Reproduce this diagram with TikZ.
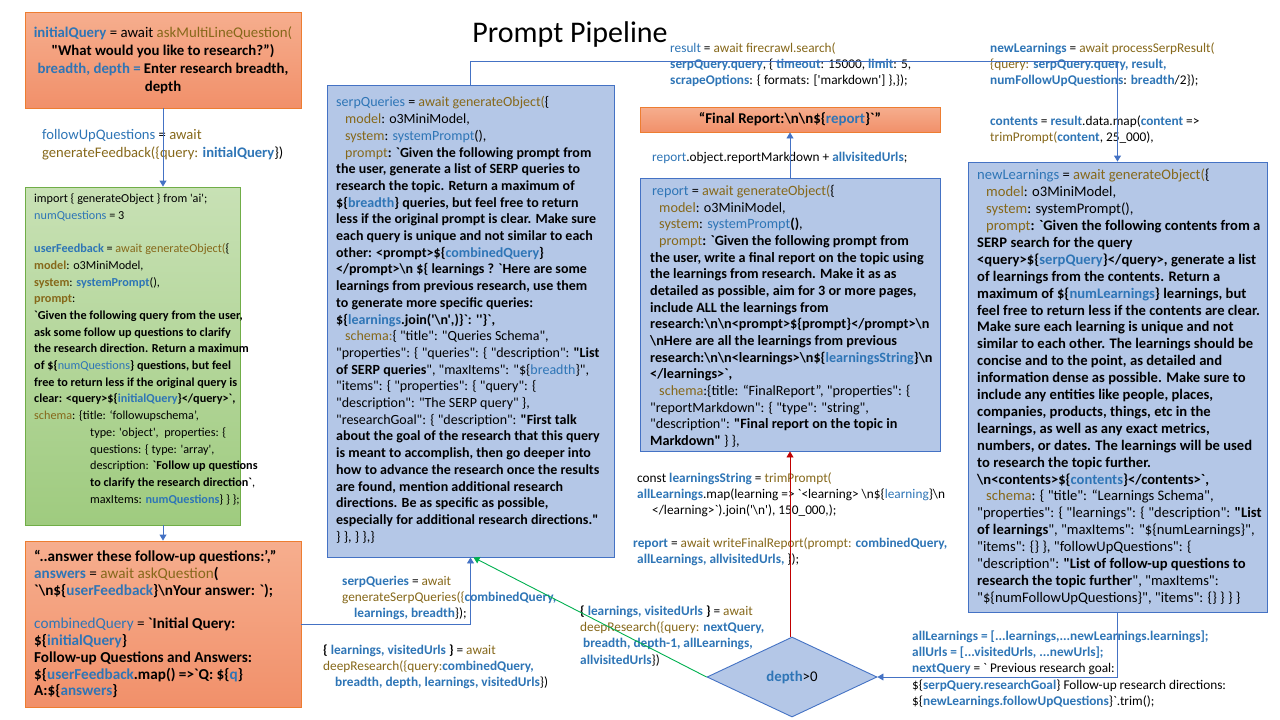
\documentclass[tikz,border=0pt]{standalone}
\usepackage{fontspec}
\newfontfamily\codefont{Carlito}
\usepackage{xcolor}
\usepackage{tikz}
\usetikzlibrary{shapes.geometric,arrows.meta,positioning}
\definecolor{CodeBlue}{HTML}{2E75B6}
\definecolor{CodeGold}{HTML}{86681A}
\definecolor{BoxBlue}{HTML}{B4C7E7}
\definecolor{BoxBlueEdge}{HTML}{4472C4}
\definecolor{BoxOrangeTop}{HTML}{F6AE8E}
\definecolor{BoxOrangeBottom}{HTML}{F1906A}
\definecolor{BoxOrangeEdge}{HTML}{ED7D31}
\definecolor{BoxGreenTop}{HTML}{C8E1B5}
\definecolor{BoxGreenBottom}{HTML}{9FCB7F}
\definecolor{BoxGreenEdge}{HTML}{70AD47}
\definecolor{FlowBlue}{HTML}{4472C4}
\definecolor{FlowRed}{HTML}{C00000}
\definecolor{FlowGreen}{HTML}{00B050}
\newcommand{\vn}[1]{\textcolor{CodeBlue}{#1}}
\newcommand{\fn}[1]{\textcolor{CodeGold}{#1}}
\newcommand{\bsl}{\textbackslash}

\begin{document}
\begin{tikzpicture}[x=1pt, y=-1pt,
    bluebox/.style={draw=BoxBlueEdge, fill=BoxBlue, line width=0.9pt},
    orangebox/.style={draw=BoxOrangeEdge, top color=BoxOrangeTop, bottom color=BoxOrangeBottom, line width=0.9pt},
    greenbox/.style={draw=BoxGreenEdge, top color=BoxGreenTop, bottom color=BoxGreenBottom, line width=0.9pt},
    boxtext/.style 2 args={anchor=north west, inner sep=0pt, align=left, font=\codefont\fontsize{#1}{#2}\selectfont},
    note/.style={anchor=north west, inner sep=0pt, align=left, font=\codefont\fontsize{13.3}{16.2}\selectfont},
    flow/.style={draw=FlowBlue, line width=0.9pt, -{Triangle[width=7pt,length=6pt]}}]
  \useasboundingbox (0,0) rectangle (1280,720);
  \fill[white] (0,0) rectangle (1280,720);

  \node[font=\codefont\fontsize{30}{34}\selectfont] (title) at (570,35) {Prompt Pipeline};

  % user input
  \node[orangebox, minimum width=276pt, minimum height=96pt, align=center, font=\codefont\fontsize{14.8}{18}\selectfont] (init) at (163,60)
    {\textbf{\vn{initialQuery}} = await \fn{askMultiLineQuestion(}\\
     \textbf{"What would you like to research?”)}\\
     \textbf{\vn{breadth, depth =} Enter research breadth,}\\
     \textbf{depth}};
  \node[boxtext={14.6}{18}] (fupq) at (42,129)
    {\vn{followUpQuestions} = \fn{await}\\
     \fn{generateFeedback(\{query:} \textbf{\vn{initialQuery}}\})};

  \node[greenbox, minimum width=215pt, minimum height=338pt] (feedback) at (132.5,356) {};
  \node[boxtext={12.2}{16.7}] (feedbacktxt) at (34,193.5)
    {import \{ generateObject \} from 'ai';\\
     \vn{numQuestions} = 3\\[16.7pt]
     \textbf{\vn{userFeedback}} = \fn{await generateObject(}\{\\
     \textbf{\fn{model}}: o3MiniModel,\\
     \textbf{\fn{system}}: \textbf{\vn{systemPrompt}}(),\\
     \textbf{\fn{prompt}}:\\
     \textbf{`Given the following query from the user,}\\
     \textbf{ask some follow up questions to clarify}\\
     \textbf{the research direction. Return a maximum}\\
     \textbf{of \$\{}\vn{numQuestions}\textbf{\} questions, but feel}\\
     \textbf{free to return less if the original query is}\\
     \textbf{clear: <query>\$\{\vn{initialQuery}\}</query>`,}\\
     \fn{schema}: \{title: ‘followupschema’,\\
     \hspace*{56pt}type: 'object',\ \ properties: \{\\
     \hspace*{56pt}questions: \{ type: 'array',\\
     \hspace*{56pt}description: \textbf{`Follow up questions}\\
     \hspace*{56pt}\textbf{to clarify the research direction`},\\
     \hspace*{56pt}maxItems: \textbf{\vn{numQuestions}}\} \} \};};

  \node[orangebox, minimum width=276pt, minimum height=166pt] (answer) at (163,624) {};
  \node[boxtext={15.2}{16.8}] (answertxt) at (34,550)
    {\textbf{“..answer these follow-up questions:’,”}\\
     \textbf{\vn{answers}} = \fn{await askQuestion}\textbf{(}\\
     \textbf{`\bsl n\$\{\vn{userFeedback}\}\bsl nYour answer: `);}\\[16.8pt]
     \vn{combinedQuery} = \textbf{`Initial Query:}\\
     \textbf{\$\{\vn{initialQuery}\}}\\
     \textbf{Follow-up Questions and Answers:}\\
     \textbf{\$\{\vn{userFeedback}.map() =>`Q: \$\{\vn{q}\}}\\
     \textbf{A:\$\{\vn{answers}\}}};

  % serp queries
  \node[bluebox, minimum width=287pt, minimum height=472pt] (serp) at (470.5,321) {};
  \node[boxtext={14}{16.7}] (serptxt) at (336,96.5)
    {\vn{serpQueries} = \fn{await generateObject(}\{\\
     \hspace*{9pt}\fn{model}: o3MiniModel,\\
     \hspace*{9pt}\fn{system}: \vn{systemPrompt}(),\\
     \hspace*{9pt}\fn{prompt}\textbf{: `Given the following prompt from}\\
     \textbf{the user, generate a list of SERP queries to}\\
     \textbf{research the topic. Return a maximum of}\\
     \textbf{\$\{\vn{breadth}\} queries, but feel free to return}\\
     \textbf{less if the original prompt is clear. Make sure}\\
     \textbf{each query is unique and not similar to each}\\
     \textbf{other: <prompt>\$\{\vn{combinedQuery}\}}\\
     \textbf{</prompt>\bsl n \$\{ learnings ? `Here are some}\\
     \textbf{learnings from previous research, use them}\\
     \textbf{to generate more specific queries:}\\
     \textbf{\$\{\vn{learnings}.join('\bsl n',)\}`: ''\}`,}\\
     \hspace*{9pt}\fn{schema:}\{ "title": "Queries Schema",\\
     "properties": \{ "queries": \{ "description": \textbf{"List}\\
     \textbf{of SERP queries}", "maxItems": "\$\{\vn{breadth}\}",\\
     "items": \{ "properties": \{ "query": \{\\
     "description": "The SERP query" \},\\
     "researchGoal": \{ "description": \textbf{"First talk}\\
     \textbf{about the goal of the research that this query}\\
     \textbf{is meant to accomplish, then go deeper into}\\
     \textbf{how to advance the research once the results}\\
     \textbf{are found, mention additional research}\\
     \textbf{directions. Be as specific as possible,}\\
     \textbf{especially for additional research directions."}\\
     \} \}, \} \},\}};
  \node[note] (serpgen) at (342,575.5)
    {\textbf{\vn{serpQueries}} = \fn{await}\\
     \fn{generateSerpQueries(\{}\textbf{\vn{combinedQuery,}}\\
     \hspace*{12pt}\textbf{\vn{learnings, breadth}}\});};
  \node[note] (deepfirst) at (323,644.5)
    {\textbf{\{ \vn{learnings, visitedUrls} \}} = \fn{await}\\
     \fn{deepResearch(\{query:}\textbf{\vn{combinedQuery,}}\\
     \hspace*{12pt}\textbf{\vn{breadth, depth, learnings, visitedUrls}}\})};

  % search and learnings
  \node[note] (firecrawl) at (670,42.5)
    {\vn{result} = \fn{await firecrawl.search(}\\
     \textbf{\vn{serpQuery.query}}, \{ \textbf{\vn{timeout}}: 15000, \textbf{\vn{limit}}: 5,\\
     \textbf{\vn{scrapeOptions}}: \{ formats: ['markdown'] \},\});};
  \node[note] (processserp) at (990,42.5)
    {\textbf{\vn{newLearnings}} = \fn{await processSerpResult(}\\
     \fn{\{query:} \textbf{\vn{serpQuery.query, result,}}\\
     \textbf{\vn{numFollowUpQuestions}}: \textbf{\vn{breadth}}/2\});};
  \node[note] (contents) at (990,115.5)
    {\textbf{\vn{contents}} = \textbf{\vn{result}}.data.map(\textbf{\vn{content}} =>\\
     \fn{trimPrompt(}\textbf{\vn{content}}, 25\_000),};

  \node[bluebox, minimum width=299pt, minimum height=450pt] (learn) at (1117.5,387) {};
  \node[boxtext={14.6}{16.9}] (learntxt) at (977,169)
    {\vn{newLearnings} = \fn{await generateObject(}\{\\
     \hspace*{9pt}\fn{model}: o3MiniModel,\\
     \hspace*{9pt}\fn{system}: systemPrompt(),\\
     \hspace*{9pt}\fn{prompt}\textbf{: `Given the following contents from a}\\
     \textbf{SERP search for the query}\\
     \textbf{<query>\$\{\vn{serpQuery}\}</query>, generate a list}\\
     \textbf{of learnings from the contents. Return a}\\
     \textbf{maximum of \$\{\vn{numLearnings}\} learnings, but}\\
     \textbf{feel free to return less if the contents are clear.}\\
     \textbf{Make sure each learning is unique and not}\\
     \textbf{similar to each other. The learnings should be}\\
     \textbf{concise and to the point, as detailed and}\\
     \textbf{information dense as possible. Make sure to}\\
     \textbf{include any entities like people, places,}\\
     \textbf{companies, products, things, etc in the}\\
     \textbf{learnings, as well as any exact metrics,}\\
     \textbf{numbers, or dates. The learnings will be used}\\
     \textbf{to research the topic further.}\\
     \textbf{\bsl n<contents>\$\{\vn{contents}\}</contents>`,}\\
     \hspace*{9pt}\fn{schema}: \{ "title": “Learnings Schema",\\
     "properties": \{ "learnings": \{ "description": \textbf{"List}\\
     \textbf{of learnings}", "maxItems": "\$\{numLearnings\}",\\
     "items": \{\} \}, "followUpQuestions": \{\\
     "description": \textbf{"List of follow-up questions to}\\
     \textbf{research the topic further}", "maxItems":\\
     "\$\{numFollowUpQuestions\}", "items": \{\} \} \} \}};
  \node[note] (nextquery) at (912,630.5)
    {\textbf{\vn{allLearnings = [...learnings,...newLearnings.learnings];}}\\
     \textbf{\vn{allUrls = [...visitedUrls, ...newUrls];}}\\
     \textbf{\vn{nextQuery}} = ` Previous research goal:\\
     \$\{\textbf{\vn{serpQuery.researchGoal}}\} Follow-up research directions:\\
     \$\{\textbf{\vn{newLearnings.followUpQuestions}}\}`.trim();};

  % report
  \node[diamond, draw=BoxBlueEdge, fill=BoxBlue, line width=0.9pt, aspect=2, minimum width=170pt, minimum height=80pt, inner sep=0pt, font=\codefont\fontsize{14.8}{17}\selectfont] (depth) at (792,677)
    {\textbf{\vn{depth}}>0};
  \node[note] (deepnext) at (580,605.5)
    {\textbf{\{ \vn{learnings, visitedUrls} \}} = \fn{await}\\
     \fn{deepResearch(\{query:} \textbf{\vn{nextQuery,}}\\
     \hspace*{3pt}\textbf{\vn{breadth, depth-1, allLearnings,}}\\
     \textbf{\vn{allvisitedUrls}}\})};
  \node[note] (writefinal) at (633,537.5)
    {\textbf{\vn{report}} = \fn{await writeFinalReport(prompt:} \textbf{\vn{combinedQuery,}}\\
     \hspace*{4pt}\textbf{\vn{allLearnings, allvisitedUrls,}} \});};
  \node[note] (lstring) at (637,472.5)
    {const \textbf{\vn{learningsString}} = \fn{trimPrompt(}\\
     \textbf{\vn{allLearnings}}.map(learning => `<learning> \bsl n\$\{\vn{learning}\}\bsl n\\
     \hspace*{15pt}</learning>`).join('\bsl n'), 150\_000,);};

  \node[bluebox, minimum width=300pt, minimum height=273pt] (report) at (790,314.5) {};
  \node[boxtext={14.2}{16.67}] (reporttxt) at (650,185)
    {\hspace*{2pt}\vn{report} = \fn{await generateObject(}\{\\
     \hspace*{9pt}\fn{model}: o3MiniModel,\\
     \hspace*{9pt}\fn{system}: \vn{systemPrompt}\textbf{()},\\
     \hspace*{9pt}\fn{prompt}\textbf{: `Given the following prompt from}\\
     \textbf{the user, write a final report on the topic using}\\
     \textbf{the learnings from research. Make it as as}\\
     \textbf{detailed as possible, aim for 3 or more pages,}\\
     \textbf{include ALL the learnings from}\\
     \textbf{research:\bsl n\bsl n<prompt>\$\{prompt\}</prompt>\bsl n}\\
     \textbf{\bsl nHere are all the learnings from previous}\\
     \textbf{research:\bsl n\bsl n<learnings>\bsl n\$\{\vn{learningsString}\}\bsl n}\\
     \textbf{</learnings>`,}\\
     \hspace*{9pt}\fn{schema}:\{title: “FinalReport”, "properties": \{\\
     "reportMarkdown": \{ "type": "string",\\
     "description": \textbf{"Final report on the topic in}\\
     \textbf{Markdown"} \} \},};
  \node[note] (markdown) at (652,151.5)
    {\vn{report}.object.reportMarkdown + \textbf{\vn{allvisitedUrls}};};

  \node[orangebox, minimum width=300pt, minimum height=25pt, font=\codefont\bfseries\fontsize{14.9}{17}\selectfont] (final) at (790,119.5)
    {“Final Report:\bsl n\bsl n\$\{\vn{report}\}`”};

  % connectors
  \draw[flow] (init.south) -- (init.south |- feedback.north);
  \draw[flow] (init.south |- feedback.south) -- (answer.north);
  \draw[flow] (answer.east) -| (serp.south);
  \draw[flow] (serp.north) -- ++(0,-23) -| (learn.north);
  \draw[flow] (learn.south) |- (depth.east);
  \draw[flow, draw=FlowRed] (report.south |- depth.north) -- (report.south);
  \draw[flow] (report.north) -- (final.south);
  \draw[flow, draw=FlowGreen] (depth.west) -- ([xshift=3pt]serp.south);
\end{tikzpicture}
\end{document}
